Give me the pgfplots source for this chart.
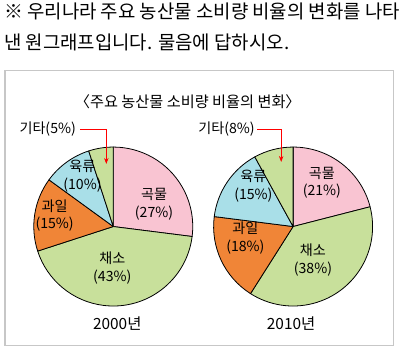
\documentclass[border=0pt]{standalone}
\usepackage{fontspec}
\setmainfont{Noto Sans CJK KR}
\usepackage{pgfplots}
\usepackage{pgfplotstable}
\pgfplotsset{compat=1.18}
\usetikzlibrary{arrows.meta}
\definecolor{cpink}{HTML}{F9C4D2}
\definecolor{cgreen}{HTML}{C8E09B}
\definecolor{cblue}{HTML}{A9DFE8}
\definecolor{corange}{HTML}{F08537}
\pgfplotstableread{
pct col
27 cpink
43 cgreen
15 corange
10 cblue
5 cgreen
}\tabA
\pgfplotstableread{
pct col
21 cpink
38 cgreen
18 corange
15 cblue
8 cgreen
}\tabB
\newcommand\pie[3]{% table, cx, cy
  \xdef\s{90}%
  \foreach \i in {0,...,4}{%
    \pgfplotstablegetelem{\i}{pct}\of#1\let\v\pgfplotsretval
    \pgfplotstablegetelem{\i}{col}\of#1\let\c\pgfplotsretval
    \pgfmathsetmacro\e{\s-3.6*\v}%
    \filldraw[fill=\c,draw=black,line width=0.8pt,line join=round] (axis cs:#2,#3) -- ++(\s:80pt) arc[start angle=\s,end angle=\e,radius=80pt] -- cycle;
    \xdef\s{\e}%
  }%
}
\begin{document}
\begin{tikzpicture}
\begin{axis}[width=400pt,height=351pt,scale only axis,xmin=0,xmax=400,ymin=0,ymax=351,
  y dir=reverse,hide axis,clip=false]
\pgfplotsextra{
  \fill[white] (axis cs:0,0) rectangle (axis cs:400,351);
  \draw[color=black!22, line width=1.3pt] (axis cs:5,71) rectangle (axis cs:396,348);
  \pie{\tabA}{114}{228}
  \pie{\tabB}{295}{228}
  \begingroup
  \fontsize{19}{22}\selectfont
  \node[anchor=west,inner sep=0pt] at (axis cs:4,12) {※ 우리나라 주요 농산물 소비량 비율의 변화를 나타};
  \node[anchor=west,inner sep=0pt] at (axis cs:4,43) {낸 원그래프입니다.  물음에 답하시오.};
  \endgroup
  \begingroup
  \fontsize{15.3}{18}\selectfont
  \node at (axis cs:189,102) {〈주요 농산물 소비량 비율의 변화〉};
  \endgroup
  \begingroup
  \fontsize{15.5}{18}\selectfont
  \node at (axis cs:118,326) {2000년};
  \node at (axis cs:293,326) {2010년};
  \endgroup
  \begingroup
  \fontsize{14.2}{18}\selectfont
  \node[align=center] at (axis cs:155,206) {곡물\\(27\%)};
  \node[align=center] at (axis cs:113,270) {채소\\(43\%)};
  \node[align=center] at (axis cs:55,217) {과일\\(15\%)};
  \node[align=center] at (axis cs:83,177) {육류\\(10\%)};
  \node at (axis cs:48,130) {기타(5\%)};
  \node[align=center] at (axis cs:324,184) {곡물\\(21\%)};
  \node[align=center] at (axis cs:315,262) {채소\\(38\%)};
  \node[align=center] at (axis cs:247,240) {과일\\(18\%)};
  \node[align=center] at (axis cs:255,187) {육류\\(15\%)};
  \node at (axis cs:228,130) {기타(8\%)};
  \endgroup
  \draw[red, line width=0.8pt, -{Stealth[length=6pt,width=4.5pt]}] (axis cs:81,130) -- (axis cs:107,130) -- (axis cs:107,165);
  \draw[red, line width=0.8pt, -{Stealth[length=6pt,width=4.5pt]}] (axis cs:259,130) -- (axis cs:283,130) -- (axis cs:283,163);
}
\end{axis}
\end{tikzpicture}
\end{document}
